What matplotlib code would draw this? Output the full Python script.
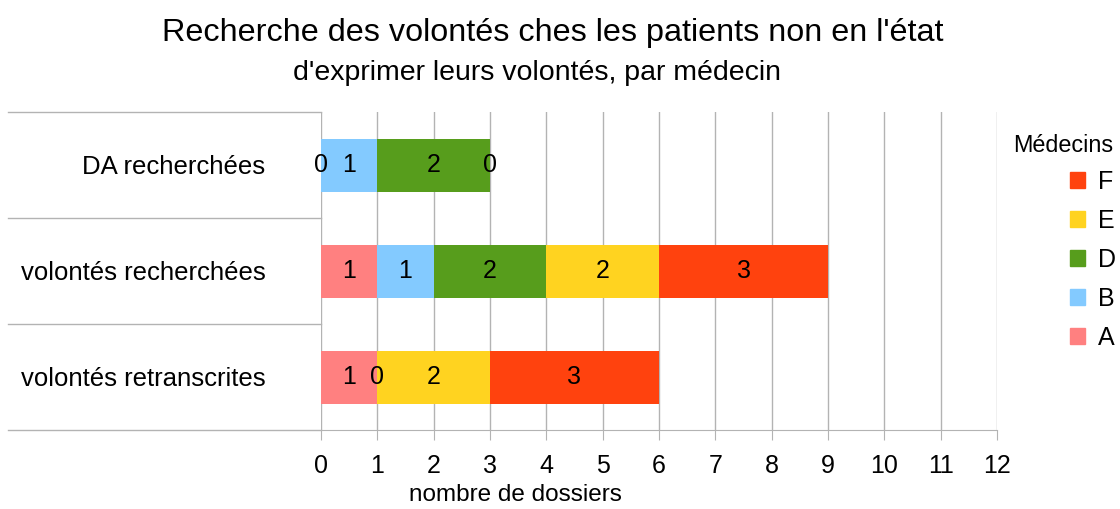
import numpy as np
import matplotlib.pyplot as plt
from matplotlib.patches import Patch

plt.rcParams['font.family'] = ['Liberation Sans', 'DejaVu Sans']

# data
categories = ['DA recherchées', 'volontés recherchées', 'volontés retranscrites']
series = ['A', 'B', 'D', 'E', 'F']
values_A = [0, 1, 1]
values_B = [1, 1, 0]
values_D = [2, 2, np.nan]
values_E = [0, 2, 2]
values_F = [np.nan, 3, 3]
colors = ['#ff8080', '#83caff', '#579d1c', '#ffd320', '#ff420e']

all_values = [values_A, values_B, values_D, values_E, values_F]

fig = plt.figure(figsize=(11.2, 5.09), dpi=100)
ax = fig.add_axes([321 / 1120, 1 - 430 / 509, 676 / 1120, 318 / 509])

y = np.arange(len(categories))
left = np.zeros(len(categories))
for name, vals, col in zip(series, all_values, colors):
    vals = np.array(vals, dtype=float)
    w = np.nan_to_num(vals)
    bars = ax.barh(y, w, left=left, height=0.5, color=col, label=name, zorder=2)
    labels = ['' if np.isnan(v) else f'{int(v)}' for v in vals]
    ax.bar_label(bars, labels=labels, label_type='center', fontsize=18, color='black')
    left = left + w

ax.set_xlim(0, 12)
ax.set_ylim(2.5, -0.5)
ax.set_xticks(range(0, 13))
ax.set_yticks(y)
ax.set_yticklabels(categories, fontsize=18.5)
ax.tick_params(axis='y', length=0, pad=40)
ax.tick_params(axis='x', length=7, color='#b3b3b3', labelsize=18, pad=10)
ax.grid(axis='x', color='#b3b3b3', linewidth=1, zorder=0)
for s in ['top', 'right', 'left']:
    ax.spines[s].set_visible(False)
ax.spines['bottom'].set_color('#b3b3b3')

# category separators on the left
tr = ax.get_yaxis_transform()
for b in [-0.5, 0.5, 1.5, 2.5]:
    ax.plot([-313 / 676, 0], [b, b], color='#b3b3b3', linewidth=1,
            transform=tr, clip_on=False)

ax.set_xlabel('nombre de dossiers', fontsize=17.5)
ax.xaxis.set_label_coords(0.287, -0.17)

fig.text(553 / 1120, 1 - 33 / 509, "Recherche des volontés ches les patients non en l'état",
         ha='center', va='center', fontsize=23.3)
fig.text(537 / 1120, 1 - 73 / 509, "d'exprimer leurs volontés, par médecin",
         ha='center', va='center', fontsize=20.5)

fig.text(1013 / 1120, 1 - 146 / 509, 'Médecins', ha='left', va='center', fontsize=16.8)
handles = [Patch(color=c, label=s) for s, c in zip(series, colors)][::-1]
fig.legend(handles=handles, loc='upper left', bbox_to_anchor=(1050 / 1120, 1 - 150 / 509),
           frameon=False, fontsize=18, handlelength=0.6, handleheight=0.6,
           labelspacing=0.6, handletextpad=0.5, borderpad=0.3)

fig.savefig('out.png', dpi=100)
